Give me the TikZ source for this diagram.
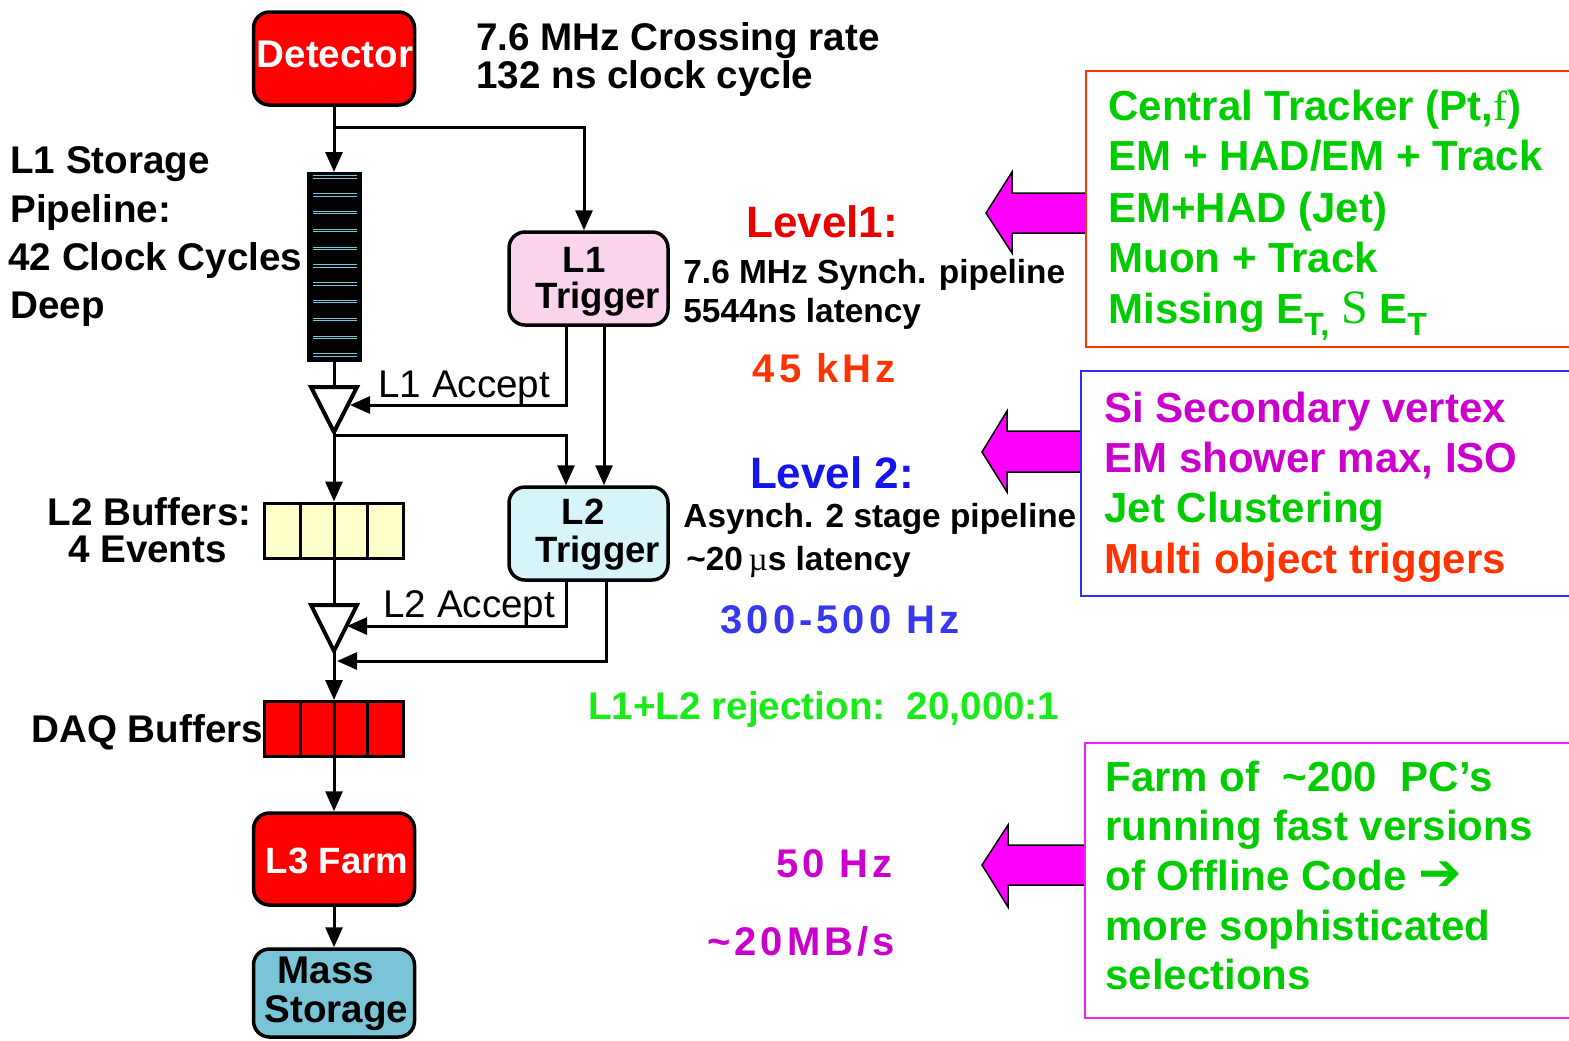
\documentclass[tikz,border=0pt]{standalone}
\usepackage{fontspec}
\setmainfont{Liberation Sans}
\newfontfamily\seriffont{Liberation Serif}
\newfontfamily\dejavufont{DejaVu Sans}
\newfontfamily\spacedfont[LetterSpace=10]{Liberation Sans}
\usetikzlibrary{arrows.meta}
\definecolor{detred}{RGB}{255,0,0}
\definecolor{pinkfill}{RGB}{250,212,236}
\definecolor{cyanfill}{RGB}{214,244,250}
\definecolor{yellowfill}{RGB}{255,255,204}
\definecolor{massfill}{RGB}{122,196,216}
\definecolor{pipecyan}{RGB}{110,200,215}
\definecolor{tgreen}{RGB}{0,204,0}
\definecolor{brightgreen}{RGB}{25,235,25}
\definecolor{tmag}{RGB}{204,0,204}
\definecolor{torange}{RGB}{255,51,0}
\definecolor{tred}{RGB}{235,0,0}
\definecolor{tblue}{RGB}{20,20,235}
\definecolor{tblue2}{RGB}{55,55,240}
\definecolor{arrmag}{RGB}{255,0,255}
\definecolor{boxblue}{RGB}{45,45,245}
\definecolor{boxmag}{RGB}{245,30,245}
\begin{document}
\begin{tikzpicture}[x=0.5pt,y=-0.5pt,
  box/.style={draw=black,line width=1.75pt,rounded corners=8pt,inner sep=0pt},
  buf/.style={draw=black,line width=1.5pt,inner sep=0pt,minimum width=69.5pt,minimum height=27.5pt},
  conn/.style={line width=1.5pt,-{Triangle[length=10pt,width=8.5pt]}},
  wire/.style={line width=1.5pt},
  gate/.style={draw=black,fill=white,line width=2pt,line join=miter},
  lbl/.style={inner sep=0pt,font=\fontsize{19.3}{23}\selectfont\bfseries},
  trig/.style={inner sep=0pt,font=\fontsize{18.3}{22}\selectfont\bfseries},
  small/.style={inner sep=0pt,font=\fontsize{16.7}{20}\selectfont\bfseries},
  thin/.style={inner sep=0pt,font=\fontsize{19.3}{23}\selectfont},
  big/.style={inner sep=0pt,font=\fontsize{22}{26}\selectfont\bfseries},
  rate/.style={inner sep=0pt,font=\fontsize{20}{24}\spacedfont\bfseries},
  boxtxt/.style={inner sep=0pt,font=\fontsize{21}{25}\selectfont\bfseries},
  blockarrow/.style={fill=arrmag,draw=black,line width=0.75pt,line join=miter}
]
\useasboundingbox (0,0) rectangle (1569,1040);

% ---- boxes ----
\node[box,fill=detred,minimum width=80.5pt,minimum height=46.5pt] (det) at (334,58.5) {};
\node[draw=black,fill=black,line width=1pt,inner sep=0pt,minimum width=26.5pt,minimum height=94pt] (pipe) at (334,267) {};
\foreach \k in {0,...,10}{
  \pgfmathsetmacro\yy{177+17.8*\k}
  \draw[pipecyan,line width=0.5pt] (313,\yy-1.2) -- (357,\yy-1.2);
  \draw[pipecyan,line width=0.5pt] (313,\yy+1.2) -- (357,\yy+1.2);
}
\node[box,fill=pinkfill,minimum width=79.5pt,minimum height=46.5pt] (l1t) at (588.5,278.5) {};
\node[buf,fill=yellowfill] (l2buf) at (334,530.5) {};
\node[box,fill=cyanfill,minimum width=79.5pt,minimum height=46.5pt] (l2t) at (588.5,533.5) {};
\node[buf,fill=detred] (daq) at (334,729) {};
\node[box,fill=detred,minimum width=80.5pt,minimum height=46pt] (l3) at (334,859) {};
\node[box,fill=massfill,minimum width=80.5pt,minimum height=44pt] (mass) at (334,993) {};

% buffer dividers
\foreach \xx in {300.5,334,367.5}{
  \draw[line width=1.5pt] (\xx,503) -- (\xx,558);
  \draw[line width=1.5pt] (\xx,701.5) -- (\xx,756.5);
}

% ---- coordinates ----
\coordinate (b1) at (334,127);
\coordinate (t1top) at (334,387);
\coordinate (t1apex) at (334,432);
\coordinate (t1acc) at (350,405);
\coordinate (b2) at (334,435);
\coordinate (t2top) at (334,605);
\coordinate (t2apex) at (334,651);
\coordinate (t2acc) at (347,626);
\coordinate (b3) at (337,661);

% ---- connectors ----
\draw[conn] (det.south) -- (pipe.north);
\draw[conn] (b1) -| ([xshift=-2.25pt]l1t.north);
\draw[wire] (pipe.south) -- (t1top);
\draw[conn] ([xshift=-11.25pt]l1t.south) |- (t1acc);
\draw[conn] ([xshift=7.75pt]l1t.south) -- ([xshift=7.75pt]l2t.north);
\draw[conn] (t1apex) -- (l2buf.north);
\draw[conn] (b2) -| ([xshift=-11.25pt]l2t.north);
\draw[wire] (l2buf.south) -- (t2top);
\draw[conn] ([xshift=-11.25pt]l2t.south) |- (t2acc);
\draw[conn] ([xshift=8.75pt]l2t.south) |- (b3);
\draw[conn] (t2apex) -- (daq.north);
\draw[conn] (daq.south) -- (l3.north);
\draw[conn] (l3.south) -- (mass.north);

% gates
\draw[gate] (311,387) -- (357,387) -- (334,432) -- cycle;
\draw[gate] (311,605) -- (357,605) -- (334,651) -- cycle;

% ---- left column texts ----
\node[lbl,white,anchor=base] (detlbl) at (335,67) {Detector};
\node[lbl,anchor=base west] (rate1) at (476,50) {7.6 MHz Crossing rate};
\node[lbl,anchor=base west] (rate2) at (476,88) {132 ns clock cycle};
\node[lbl,anchor=base west] (st1) at (10,173) {L1 Storage};
\node[lbl,anchor=base west] (st2) at (10,222) {Pipeline:};
\node[lbl,anchor=base west] (st3) at (8,270) {42 Clock Cycles};
\node[lbl,anchor=base west] (st4) at (10,318) {Deep};
\node[trig,anchor=base] (l1a) at (584,272) {L1};
\node[trig,anchor=base] (l1b) at (598,308) {Trigger};
\node[thin,anchor=base west] (acc1) at (378,397) {L1 Accept};
\node[lbl,anchor=base] (bufa) at (149.5,525) {L2 Buffers:};
\node[lbl,anchor=base] (bufb) at (147.5,562) {4 Events};
\node[trig,anchor=base] (l2a) at (583,524) {L2};
\node[trig,anchor=base] (l2b) at (598,562) {Trigger};
\node[thin,anchor=base west] (acc2) at (383,617) {L2 Accept};
\node[lbl,anchor=base west] (daqlbl) at (31,742) {DAQ Buffers};
\node[trig,white,anchor=base] (l3lbl) at (337,873) {L3 Farm};
\node[lbl,anchor=base] (massa) at (326,983) {Mass};
\node[lbl,anchor=base] (massb) at (336.5,1022) {Storage};

% ---- middle texts ----
\node[big,tred,anchor=base] (lev1) at (822,237) {Level1:};
\node[small,anchor=base west] (s1) at (683,283) {7.6 MHz Synch. pipeline};
\node[small,anchor=base west] (s2) at (683,322) {5544ns latency};
\node[rate,torange,anchor=base east] (r1) at (896,382) {45 kHz};
\node[big,tblue,anchor=base] (lev2) at (832,488) {Level 2:};
\node[small,anchor=base west] (s3) at (683,527) {Asynch. 2 stage pipeline};
\node[small,anchor=base west] (s4) at (686,570) {\textasciitilde 20\,{\seriffont\mdseries µ}s latency};
\node[rate,tblue2,anchor=base] (r2) at (840,633) {300-500 Hz};
\node[lbl,brightgreen,anchor=base west] (rej) at (588,719) {L1+L2 rejection:\ \ 20,000:1};
\node[rate,tmag,anchor=base east] (r3) at (893,877) {50 Hz};
\node[rate,tmag,anchor=base east] (r4) at (895,955) {\textasciitilde 20MB/s};

% ---- block arrows ----
\draw[blockarrow] (1086,193) -- (1012,193) -- (1012,172) -- (986,213) -- (1012,253) -- (1012,233) -- (1086,233) -- cycle;
\draw[blockarrow] (1081,431) -- (1007,431) -- (1007,411) -- (982,452) -- (1007,492) -- (1007,472) -- (1081,472) -- cycle;
\draw[blockarrow] (1085,845) -- (1008,845) -- (1008,825) -- (982,865) -- (1008,907) -- (1008,885) -- (1085,885) -- cycle;

% ---- right boxes ----
\draw[torange,line width=1.2pt] (1580,71) -- (1086,71) -- (1086,347) -- (1580,347);
\draw[boxblue,line width=1.2pt] (1580,371) -- (1081,371) -- (1081,596) -- (1580,596);
\draw[boxmag,line width=1.2pt] (1580,743) -- (1085,743) -- (1085,1018) -- (1580,1018);

\node[boxtxt,tgreen,anchor=base west] (c1) at (1108,120) {Central Tracker (Pt,{\seriffont\mdseries f})};
\node[boxtxt,tgreen,anchor=base west] (c2) at (1108,170) {EM + HAD/EM + Track};
\node[boxtxt,tgreen,anchor=base west] (c3) at (1108,222) {EM+HAD (Jet)};
\node[boxtxt,tgreen,anchor=base west] (c4) at (1108,272) {Muon + Track};
\node[boxtxt,tgreen,anchor=base west] (c5) at (1108,323) {Missing E\raisebox{-6pt}{\fontsize{16}{16}\selectfont T,}\ {\seriffont\mdseries\fontsize{24}{26}\selectfont S}\ E\raisebox{-6pt}{\fontsize{16}{16}\selectfont T}};

\node[boxtxt,tmag,anchor=base west] (v1) at (1104,422) {Si Secondary vertex};
\node[boxtxt,tmag,anchor=base west] (v2) at (1104,472) {EM shower max, ISO};
\node[boxtxt,tgreen,anchor=base west] (v3) at (1104,522) {Jet Clustering};
\node[boxtxt,torange,anchor=base west] (v4) at (1104,573) {Multi object triggers};

\node[boxtxt,tgreen,anchor=base west] (f1) at (1105,791) {Farm of\ \ \textasciitilde 200\ \ PC’s};
\node[boxtxt,tgreen,anchor=base west] (f2) at (1105,840) {running fast versions};
\node[boxtxt,tgreen,anchor=base west] (f3) at (1105,890) {of Offline Code {\dejavufont\fontsize{26}{26}\selectfont ➔}};
\node[boxtxt,tgreen,anchor=base west] (f4) at (1105,940) {more sophisticated};
\node[boxtxt,tgreen,anchor=base west] (f5) at (1105,989) {selections};
\end{tikzpicture}
\end{document}
